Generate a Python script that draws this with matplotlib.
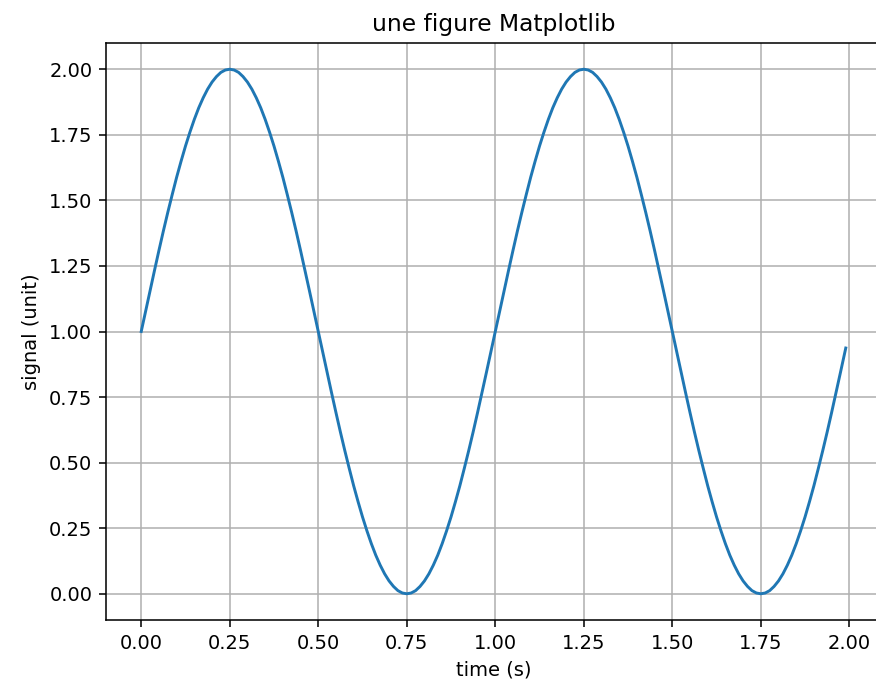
import matplotlib
matplotlib.use('Agg')
import matplotlib.pyplot as plt

# valeurs (pas de 0.0125 s)
times = [0.0000, 0.0125, 0.0250, 0.0375, 0.0500, 0.0625, 0.0750, 0.0875,
         0.1000, 0.1125, 0.1250, 0.1375, 0.1500, 0.1625, 0.1750, 0.1875,
         0.2000, 0.2125, 0.2250, 0.2375, 0.2500, 0.2625, 0.2750, 0.2875,
         0.3000, 0.3125, 0.3250, 0.3375, 0.3500, 0.3625, 0.3750, 0.3875,
         0.4000, 0.4125, 0.4250, 0.4375, 0.4500, 0.4625, 0.4750, 0.4875,
         0.5000, 0.5125, 0.5250, 0.5375, 0.5500, 0.5625, 0.5750, 0.5875,
         0.6000, 0.6125, 0.6250, 0.6375, 0.6500, 0.6625, 0.6750, 0.6875,
         0.7000, 0.7125, 0.7250, 0.7375, 0.7500, 0.7625, 0.7750, 0.7875,
         0.8000, 0.8125, 0.8250, 0.8375, 0.8500, 0.8625, 0.8750, 0.8875,
         0.9000, 0.9125, 0.9250, 0.9375, 0.9500, 0.9625, 0.9750, 0.9875,
         1.0000, 1.0125, 1.0250, 1.0375, 1.0500, 1.0625, 1.0750, 1.0875,
         1.1000, 1.1125, 1.1250, 1.1375, 1.1500, 1.1625, 1.1750, 1.1875,
         1.2000, 1.2125, 1.2250, 1.2375, 1.2500, 1.2625, 1.2750, 1.2875,
         1.3000, 1.3125, 1.3250, 1.3375, 1.3500, 1.3625, 1.3750, 1.3875,
         1.4000, 1.4125, 1.4250, 1.4375, 1.4500, 1.4625, 1.4750, 1.4875,
         1.5000, 1.5125, 1.5250, 1.5375, 1.5500, 1.5625, 1.5750, 1.5875,
         1.6000, 1.6125, 1.6250, 1.6375, 1.6500, 1.6625, 1.6750, 1.6875,
         1.7000, 1.7125, 1.7250, 1.7375, 1.7500, 1.7625, 1.7750, 1.7875,
         1.8000, 1.8125, 1.8250, 1.8375, 1.8500, 1.8625, 1.8750, 1.8875,
         1.9000, 1.9125, 1.9250, 1.9375, 1.9500, 1.9625, 1.9750, 1.9875,
         1.9900]
signal = [1.000, 1.078, 1.156, 1.233, 1.309, 1.383, 1.454, 1.522, 1.588, 1.649,
          1.707, 1.760, 1.809, 1.853, 1.891, 1.924, 1.951, 1.972, 1.988, 1.997,
          2.000, 1.997, 1.988, 1.972, 1.951, 1.924, 1.891, 1.853, 1.809, 1.760,
          1.707, 1.649, 1.588, 1.522, 1.454, 1.383, 1.309, 1.233, 1.156, 1.078,
          1.000, 0.922, 0.844, 0.767, 0.691, 0.617, 0.546, 0.478, 0.412, 0.351,
          0.293, 0.240, 0.191, 0.147, 0.109, 0.076, 0.049, 0.028, 0.012, 0.003,
          0.000, 0.003, 0.012, 0.028, 0.049, 0.076, 0.109, 0.147, 0.191, 0.240,
          0.293, 0.351, 0.412, 0.478, 0.546, 0.617, 0.691, 0.767, 0.844, 0.922,
          1.000, 1.078, 1.156, 1.233, 1.309, 1.383, 1.454, 1.522, 1.588, 1.649,
          1.707, 1.760, 1.809, 1.853, 1.891, 1.924, 1.951, 1.972, 1.988, 1.997,
          2.000, 1.997, 1.988, 1.972, 1.951, 1.924, 1.891, 1.853, 1.809, 1.760,
          1.707, 1.649, 1.588, 1.522, 1.454, 1.383, 1.309, 1.233, 1.156, 1.078,
          1.000, 0.922, 0.844, 0.767, 0.691, 0.617, 0.546, 0.478, 0.412, 0.351,
          0.293, 0.240, 0.191, 0.147, 0.109, 0.076, 0.049, 0.028, 0.012, 0.003,
          0.000, 0.003, 0.012, 0.028, 0.049, 0.076, 0.109, 0.147, 0.191, 0.240,
          0.293, 0.351, 0.412, 0.478, 0.546, 0.617, 0.691, 0.767, 0.844, 0.922,
          0.937]

fig = plt.figure(figsize=(876/140, 690/140), dpi=140)
ax = fig.add_axes([106/876, 70/690, 775/876, 577/690])
ax.plot(times, signal)
ax.set(xlabel='time (s)', ylabel='signal (unit)',
       title='une figure Matplotlib')
ax.grid()

fig.savefig('out.png', dpi=140)
